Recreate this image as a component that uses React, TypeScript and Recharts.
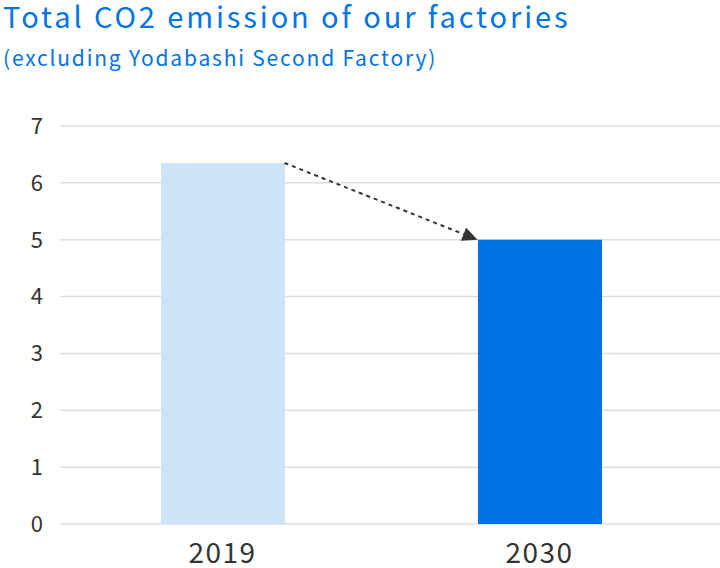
import { Bar, BarChart, CartesianGrid, Cell, ReferenceLine, XAxis, YAxis } from "recharts";

// CO2 total, two years
const years = ["2019", "2030"];
const emissions = [6.35, 5.0];
const barColors = ["#CCE3F8", "#0073E6"];
const yTicks = [0, 1, 2, 3, 4, 5, 6, 7];

const data = years.map((year, i) => ({ year, value: emissions[i] }));

const FONT = '"Noto Sans CJK JP", "Noto Sans", sans-serif';
const BAR_SIZE = 124;

// dotted arrow from the right edge of the first bar to the left edge of the second
function TrendArrow(props: any) {
  const x1 = props.x1 + BAR_SIZE / 2;
  const y1 = props.y1;
  const x2 = props.x2 - BAR_SIZE / 2;
  const y2 = props.y2;
  const ang = Math.atan2(y2 - y1, x2 - x1);
  const len = 15;
  const half = 7;
  const bx = x2 - len * Math.cos(ang);
  const by = y2 - len * Math.sin(ang);
  const nx = -Math.sin(ang);
  const ny = Math.cos(ang);
  const pts = `${x2},${y2} ${bx + nx * half},${by + ny * half} ${bx - nx * half},${by - ny * half}`;
  return (
    <g>
      <line x1={x1} y1={y1} x2={bx} y2={by} stroke="#333" strokeWidth={2} strokeDasharray="4 4" />
      <polygon points={pts} fill="#333" />
    </g>
  );
}

export default function App() {
  return (
    <div style={{ position: "absolute", left: 0, top: 0, width: 720, height: 568, background: "#fff", fontFamily: FONT }}>
      <div style={{ position: "absolute", left: 0, top: 0 }}>
        <BarChart width={720} height={568} data={data} margin={{ top: 126, right: 0, left: 0, bottom: 0 }}>
          <CartesianGrid vertical={false} stroke="#DDDDDD" strokeWidth={1.5} />
          <XAxis
            dataKey="year"
            height={44}
            padding={{ left: 4, right: 22 }}
            tickLine={false}
            axisLine={false}
            tickMargin={13}
            tick={{ fill: "#333", fontSize: 28, fontFamily: FONT, letterSpacing: 1.5 }}
          />
          <YAxis
            width={60}
            domain={[0, 7]}
            ticks={yTicks}
            tickLine={false}
            axisLine={false}
            tickMargin={11}
            tick={{ fill: "#333", fontSize: 22, fontFamily: FONT }}
          />
          <Bar dataKey="value" barSize={BAR_SIZE} isAnimationActive={false}>
            {data.map((d, i) => (
              <Cell key={d.year} fill={barColors[i]} />
            ))}
          </Bar>
          <ReferenceLine
            segment={[
              { x: years[0], y: emissions[0] },
              { x: years[1], y: emissions[1] },
            ]}
            shape={TrendArrow}
          />
        </BarChart>
      </div>
      <div style={{ position: "absolute", left: 3, top: 0, fontSize: 29, lineHeight: "30px", letterSpacing: 2.9, color: "#0073E6", whiteSpace: "nowrap" }}>
        Total CO2 emission of our factories
      </div>
      <div style={{ position: "absolute", left: 3, top: 44, fontSize: 21, lineHeight: "26px", letterSpacing: 1.8, color: "#0073E6", whiteSpace: "nowrap" }}>
        (excluding Yodabashi Second Factory)
      </div>
    </div>
  );
}
